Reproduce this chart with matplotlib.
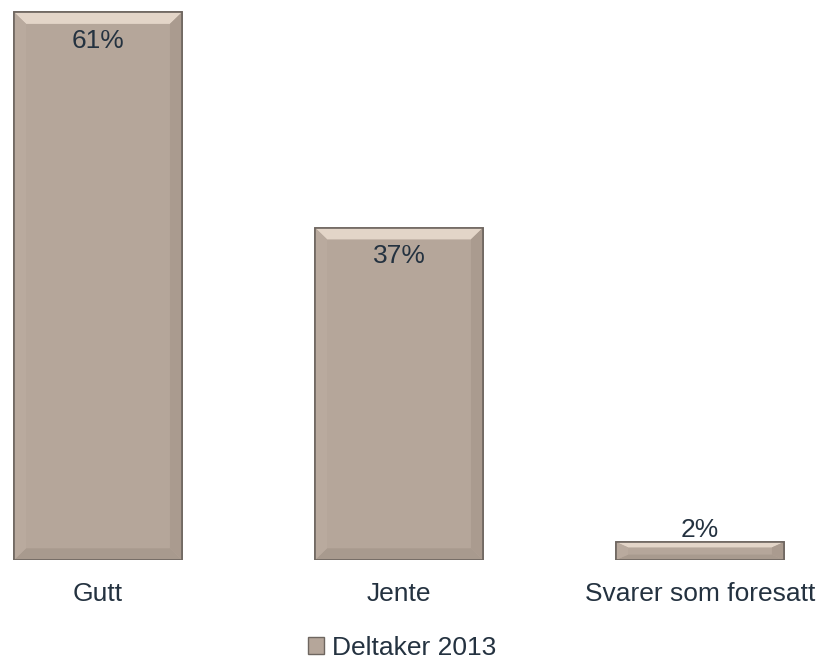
import matplotlib
matplotlib.use("Agg")
import matplotlib.pyplot as plt
from matplotlib.patches import Polygon, Patch
import numpy as np

categories = ["Gutt", "Jente", "Svarer som foresatt"]
values = [61, 37, 2]
labels = ["61%", "37%", "2%"]
series_name = "Deltaker 2013"

plt.rcParams['font.family'] = ['Liberation Sans', 'DejaVu Sans']

W, H = 823, 663
base = 560
fig = plt.figure(figsize=(W/100, H/100), dpi=100)
ax = fig.add_axes([0, 1 - base/H, 1, base/H])
x = np.arange(len(categories))
width = 0.558
face = "#b5a69a"
edge = "#6e6660"
txt = "#243240"
bars = ax.bar(x, values, width=width, color=face, edgecolor=edge, linewidth=1.2, zorder=2)
ax.set_xlim(-98/301, (W-98)/301)
ax.set_ylim(0, base/8.98)

# bevel highlights derived from bar geometry
for b in bars:
    x0, y0 = b.get_x(), b.get_y()
    w, h = b.get_width(), b.get_height()
    dx = 0.04
    dy = min(1.3, h * 0.3)
    top = Polygon([[x0, y0 + h], [x0 + w, y0 + h], [x0 + w - dx, y0 + h - dy], [x0 + dx, y0 + h - dy]],
                  closed=True, facecolor="#e3d5c8", edgecolor="none", zorder=3)
    bot = Polygon([[x0, y0], [x0 + w, y0], [x0 + w - dx, y0 + dy], [x0 + dx, y0 + dy]],
                  closed=True, facecolor="#a89a8e", edgecolor="none", zorder=3)
    left = Polygon([[x0, y0], [x0, y0 + h], [x0 + dx, y0 + h - dy], [x0 + dx, y0 + dy]],
                   closed=True, facecolor="#b9aa9e", edgecolor="none", zorder=3)
    right = Polygon([[x0 + w, y0], [x0 + w, y0 + h], [x0 + w - dx, y0 + h - dy], [x0 + w - dx, y0 + dy]],
                    closed=True, facecolor="#aa9b8f", edgecolor="none", zorder=3)
    for p in (top, bot, left, right):
        ax.add_patch(p)
    ax.add_patch(Polygon([[x0, y0], [x0 + w, y0], [x0 + w, y0 + h], [x0, y0 + h]], closed=True,
                         facecolor="none", edgecolor=edge, linewidth=1.2, zorder=4))

for xi, v, lab in zip(x, values, labels):
    if v > 5:
        ax.annotate(lab, (xi, v), xytext=(0, -12), textcoords="offset points",
                    ha="center", va="top", fontsize=19, color=txt, zorder=5)
    else:
        ax.annotate(lab, (xi, v), xytext=(0, 0), textcoords="offset points",
                    ha="center", va="bottom", fontsize=19, color=txt, zorder=5)

ax.set_xticks(x)
ax.set_xticklabels(categories, fontsize=19, color=txt)
ax.tick_params(axis="x", length=0, pad=16)
ax.set_yticks([])
for s in ax.spines.values():
    s.set_visible(False)

handle = Patch(facecolor=face, edgecolor=edge, label=series_name)
fig.legend(handles=[handle], loc="center", bbox_to_anchor=(402/W, 1 - 648/H), frameon=False,
           fontsize=19, handlelength=0.6, handleheight=0.6, handletextpad=0.3, labelcolor=txt)

fig.savefig("out.png", dpi=100)
